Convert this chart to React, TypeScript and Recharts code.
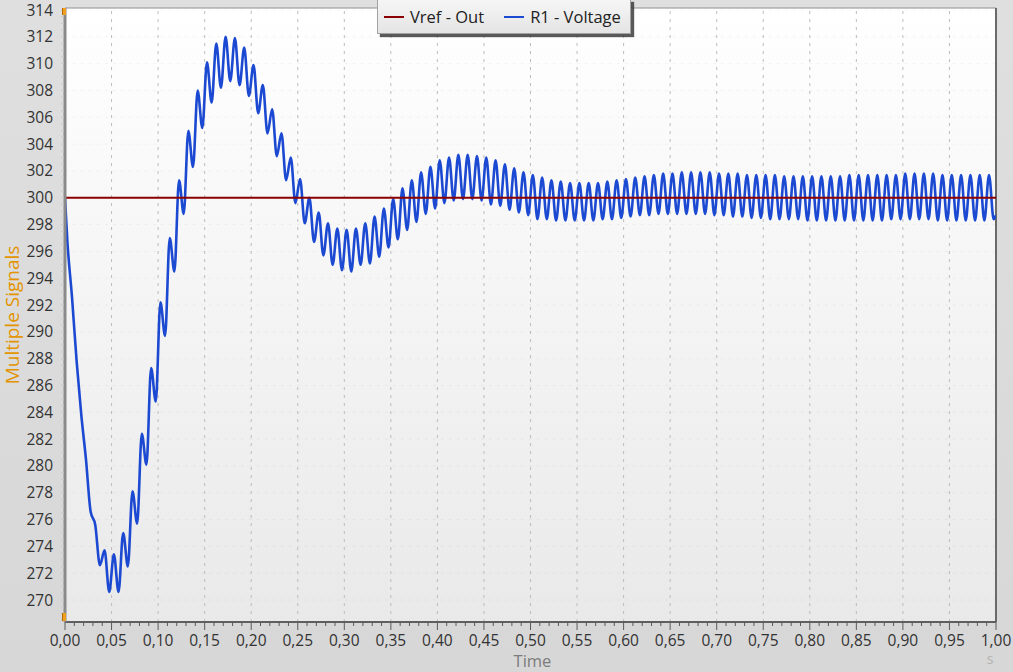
import React from 'react';
import { LineChart, Line, XAxis, YAxis, ReferenceLine, ReferenceArea } from 'recharts';

// ---- data ----
const SAMPLE_START = 0.0025; // s, first ripple extreme
const SAMPLE_STEP = 0.005; // s, half ripple period (alternating peak / trough)
const startTime = 0;
const startValue = 300;
const endTime = 1.0;
const endValue = 298.7;
const vrefLevel = 300;

// R1 - Voltage read at every ripple extreme (10 per 0.05 s)
const r1Voltage = [
  296.8, 292.6, 287.8, 283.8, 280.5, 276.6, 275.6, 272.6, 273.7, 270.6,
  273.4, 270.6, 275.0, 272.5, 278.1, 275.7, 282.4, 280.1, 287.3, 284.8,
  292.2, 289.7, 297.0, 294.5, 301.3, 298.8, 305.0, 302.3, 308.0, 305.2,
  310.1, 307.1, 311.5, 308.2, 312.0, 308.7, 311.9, 308.4, 311.2, 307.6,
  309.9, 306.3, 308.4, 304.8, 306.6, 303.1, 304.8, 301.3, 303.0, 299.6,
  301.4, 298.1, 300.0, 296.7, 298.9, 295.7, 298.1, 295.0, 297.7, 294.6,
  297.6, 294.5, 297.7, 295.0, 298.1, 295.1, 298.6, 295.6, 299.2, 296.3,
  299.9, 296.9, 300.7, 297.6, 301.3, 298.2, 301.9, 298.8, 302.3, 299.2,
  302.8, 299.6, 303.0, 299.8, 303.2, 299.9, 303.2, 299.9, 303.1, 299.8,
  303.0, 299.5, 302.8, 299.4, 302.5, 299.1, 302.2, 298.9, 301.9, 298.7,
  301.7, 298.4, 301.5, 298.4, 301.3, 298.3, 301.2, 298.3, 301.1, 298.3,
  301.1, 298.3, 301.1, 298.3, 301.1, 298.4, 301.2, 298.4, 301.3, 298.5,
  301.4, 298.6, 301.5, 298.7, 301.6, 298.7, 301.7, 298.8, 301.8, 298.8,
  301.8, 298.8, 301.9, 298.8, 301.9, 298.8, 301.9, 298.8, 301.9, 298.7,
  301.8, 298.7, 301.8, 298.6, 301.8, 298.6, 301.7, 298.5, 301.7, 298.5,
  301.7, 298.4, 301.7, 298.4, 301.6, 298.4, 301.6, 298.4, 301.6, 298.3,
  301.6, 298.3, 301.6, 298.3, 301.6, 298.3, 301.6, 298.3, 301.7, 298.3,
  301.7, 298.3, 301.7, 298.3, 301.7, 298.3, 301.7, 298.4, 301.7, 298.4,
  301.8, 298.4, 301.8, 298.4, 301.8, 298.4, 301.8, 298.3, 301.7, 298.3,
  301.7, 298.3, 301.7, 298.3, 301.7, 298.3, 301.7, 298.3, 301.7, 298.4,
];

const xMajorTicks = [
  0, 0.05, 0.1, 0.15, 0.2, 0.25, 0.3, 0.35, 0.4, 0.45, 0.5,
  0.55, 0.6, 0.65, 0.7, 0.75, 0.8, 0.85, 0.9, 0.95, 1.0,
];
const yMajorTicks = [
  270, 272, 274, 276, 278, 280, 282, 284, 286, 288, 290, 292,
  294, 296, 298, 300, 302, 304, 306, 308, 310, 312, 314,
];
const xMinorTicks = Array.from({ length: 101 }, (_, i) => i / 100);
const yMinorTicks = Array.from({ length: 92 }, (_, i) => 268.5 + i * 0.5);

const X_DOMAIN: [number, number] = [0, 1];
const Y_DOMAIN: [number, number] = [268.36, 314.15];

const rows = [
  { time: startTime, r1: startValue, vref: vrefLevel },
  ...r1Voltage.map((v, i) => ({ time: SAMPLE_START + i * SAMPLE_STEP, r1: v, vref: vrefLevel })),
  { time: endTime, r1: endValue, vref: vrefLevel },
];

// ---- styles ----
const FONT = '"Open Sans", "Noto Sans", sans-serif';
const BLUE = '#1c49d2';
const RED = '#8b0000';

const fmtX = (v: number) => v.toFixed(2).replace('.', ',');
const isMajorX = (v: number) => Math.round(v * 100) % 5 === 0;
const isMajorY = (v: number) => Math.abs(v % 2) < 1e-9;

const XTick = (props: any) => {
  const { x, y, payload } = props;
  const v = payload.value as number;
  const major = isMajorX(v);
  return (
    <g>
      <line x1={x} x2={x} y1={y} y2={y + (major ? 8 : 4)} stroke="#5a5a5a" strokeWidth={1} />
      {major && (
        <text x={x} y={y + 24} textAnchor="middle" fontFamily={FONT} fontSize={15.5} fill="#333">
          {fmtX(v)}
        </text>
      )}
    </g>
  );
};

const YTick = (props: any) => {
  const { x, y, payload } = props;
  const v = payload.value as number;
  const major = isMajorY(v);
  return (
    <g>
      <line x1={x - 1} x2={x - 4} y1={y} y2={y} stroke="#c8c8c8" strokeWidth={1} />
      {major && (
        <text x={x - 12} y={y + 5.5} textAnchor="end" fontFamily={FONT} fontSize={15.5} fill="#333">
          {String(v)}
        </text>
      )}
    </g>
  );
};

const XTitle = (props: any) => {
  const vb = props.viewBox || {};
  return (
    <g>
      <text x={vb.x + vb.width / 2 + 2} y={vb.y + 45} textAnchor="middle" fontFamily={FONT} fontSize={16.5} fill="#7c7c7c">
        Time
      </text>
      <text x={vb.x + vb.width - 6} y={vb.y + 42} textAnchor="middle" fontFamily={FONT} fontSize={14} fill="#b4b4b4">
        s
      </text>
    </g>
  );
};

const YTitle = (props: any) => {
  const vb = props.viewBox || {};
  const cx = vb.x + 7;
  const cy = vb.y + vb.height / 2;
  return (
    <text
      x={cx}
      y={cy}
      transform={`rotate(-90 ${cx} ${cy})`}
      textAnchor="middle"
      dominantBaseline="central"
      fontFamily={FONT}
      fontSize={19}
      fill="#e39400"
    >
      Multiple Signals
    </text>
  );
};

const LegendBox = () => (
  <div
    style={{
      position: 'absolute',
      left: 377,
      top: -1,
      width: 254,
      height: 35,
      boxSizing: 'border-box',
      border: '1px solid #a2a2a2',
      background: 'linear-gradient(180deg, #f6f6f6 0%, #e4e4e4 100%)',
      boxShadow: '3px 3px 1px rgba(60,60,60,0.85)',
      display: 'flex',
      alignItems: 'center',
      fontFamily: FONT,
      fontSize: 16.5,
      color: '#222',
      whiteSpace: 'nowrap',
    }}
  >
    <span style={{ display: 'inline-block', width: 20, height: 2, background: RED, marginLeft: 6 }} />
    <span style={{ marginLeft: 6 }}>Vref - Out</span>
    <span style={{ display: 'inline-block', width: 20, height: 2, background: BLUE, marginLeft: 20 }} />
    <span style={{ marginLeft: 6 }}>R1 - Voltage</span>
  </div>
);

export default function App() {
  return (
    <div
      style={{
        position: 'absolute',
        left: 0,
        top: 0,
        width: 1013,
        height: 672,
        overflow: 'hidden',
        background: 'linear-gradient(180deg, #dfdfdf 0%, #d7d7d7 100%)',
      }}
    >
      <LineChart
        width={1013}
        height={672}
        data={rows}
        margin={{ top: 8, right: 17, bottom: 0, left: 5 }}
      >
        <defs>
          <linearGradient id="plotBg" x1="0" y1="0" x2="0" y2="1">
            <stop offset="0%" stopColor="#ffffff" />
            <stop offset="100%" stopColor="#e9e9e9" />
          </linearGradient>
        </defs>
        <XAxis
          dataKey="time"
          type="number"
          domain={X_DOMAIN}
          allowDataOverflow
          ticks={xMinorTicks}
          interval={0}
          tickSize={0}
          tickMargin={0}
          tickLine={false}
          tick={<XTick />}
          height={50}
          axisLine={{ stroke: '#5f5f5f', strokeWidth: 2 }}
          label={{ content: <XTitle /> }}
        />
        <YAxis
          type="number"
          domain={Y_DOMAIN}
          allowDataOverflow
          ticks={yMinorTicks}
          interval={0}
          tickSize={0}
          tickMargin={0}
          tickLine={false}
          tick={<YTick />}
          width={60}
          axisLine={{ stroke: '#8a8a8a', strokeWidth: 3 }}
          label={{ content: <YTitle /> }}
        />
        <ReferenceArea
          x1={X_DOMAIN[0]}
          x2={X_DOMAIN[1]}
          y1={Y_DOMAIN[0]}
          y2={Y_DOMAIN[1]}
          fill="url(#plotBg)"
          fillOpacity={1}
          stroke="none"
        />
        {yMajorTicks.map((t) => (
          <ReferenceLine key={'h' + t} y={t} stroke="#000" strokeOpacity={0.045} strokeDasharray="3 5" />
        ))}
        {xMajorTicks.slice(1, -1).map((t) => (
          <ReferenceLine key={'v' + t} x={t} stroke="#bcbcbc" strokeDasharray="3 5" />
        ))}
        <ReferenceLine y={Y_DOMAIN[1]} stroke="#8e8e8e" strokeWidth={1} />
        <ReferenceLine x={X_DOMAIN[1]} stroke="#6a6a6a" strokeWidth={2} />
        <Line
          type="monotone"
          dataKey="r1"
          stroke={BLUE}
          strokeWidth={2.6}
          dot={false}
          activeDot={false}
          isAnimationActive={false}
        />
        <Line
          type="linear"
          dataKey="vref"
          stroke={RED}
          strokeWidth={2}
          dot={false}
          activeDot={false}
          isAnimationActive={false}
        />
      </LineChart>
      <LegendBox />
      <div style={{ position: 'absolute', left: 62, top: 8, width: 3, height: 7, background: '#f0a020', borderLeft: '1px solid #b06a00' }} />
      <div style={{ position: 'absolute', left: 62, top: 613, width: 3, height: 8, background: '#f0a020', borderLeft: '1px solid #b06a00' }} />
    </div>
  );
}
